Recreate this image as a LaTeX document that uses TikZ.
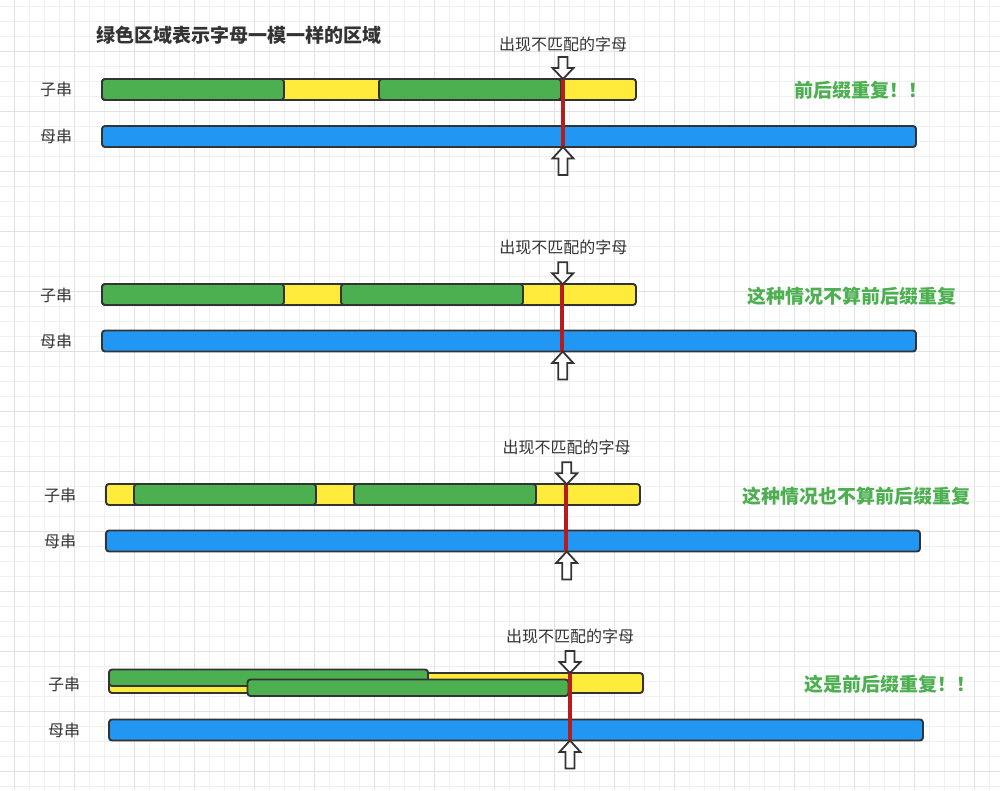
\documentclass[tikz,border=0pt]{standalone}
\usepackage{fontspec}
\newfontfamily\cjk{Noto Sans CJK SC}
\definecolor{gline}{HTML}{333333}
\definecolor{cgreen}{HTML}{4CAF50}
\definecolor{cyellow}{HTML}{FFEB3B}
\definecolor{cblue}{HTML}{2196F3}
\definecolor{cred}{HTML}{B71C1C}
\definecolor{gridminor}{HTML}{F0F0F0}
\definecolor{gridmajor}{HTML}{E2E2E2}
\tikzset{
  bar/.style={draw=gline, line width=1.9pt, rounded corners=3pt, inner sep=0pt, outer sep=0pt, anchor=north west, rectangle},
  ybar/.style={bar, fill=cyellow, minimum width=534, minimum height=21},
  gbar/.style={bar, fill=cgreen, minimum height=21},
  mbar/.style={bar, fill=cblue, minimum width=814, minimum height=21},
  redline/.style={draw=cred, line width=4pt},
  lbl/.style={font=\cjk\fontsize{16}{18}\selectfont, text=gline, inner sep=0pt},
  title/.style={font=\cjk\bfseries\fontsize{19}{22}\selectfont, text=gline, inner sep=0pt},
  note/.style={font=\cjk\bfseries\fontsize{19}{22}\selectfont, text=cgreen, inner sep=0pt},
  downarr/.pic={\draw[draw=gline, fill=white, line width=1.8pt, line join=miter] (0,0) -- (10.5,-11) -- (4.5,-11) -- (4.5,-22) -- (-4.5,-22) -- (-4.5,-11) -- (-10.5,-11) -- cycle;},
  uparr/.pic={\draw[draw=gline, fill=white, line width=1.8pt, line join=miter] (0,0) -- (10.5,11.5) -- (4.5,11.5) -- (4.5,28) -- (-4.5,28) -- (-4.5,11.5) -- (-10.5,11.5) -- cycle;}
}
\begin{document}
\begin{tikzpicture}[x=1pt,y=-1pt]
\useasboundingbox (0,0) rectangle (1000,790);
\fill[white] (0,0) rectangle (1000,790);
% grid
\foreach \gx in {-1,14,...,1004} {\draw[gridminor, line width=1pt] (\gx,0) -- (\gx,790);}
\foreach \gy in {6,21,...,786} {\draw[gridminor, line width=1pt] (0,\gy) -- (1000,\gy);}
\foreach \gx in {14,74,...,974} {\draw[gridmajor, line width=1pt] (\gx,0) -- (\gx,790);}
\foreach \gy in {51,111,...,771} {\draw[gridmajor, line width=1pt] (0,\gy) -- (1000,\gy);}

% title
\node[title, anchor=west] (title) at (96,35) {绿色区域表示字母一模一样的区域};

% ---------- group 1 ----------
\node[lbl] (g1ls) at (56,89.5) {子串};
\node[lbl] (g1lm) at (56,136.5) {母串};
\node[ybar] (g1y) at (102,79) {};
\node[gbar, minimum width=182] (g1a) at (102,79) {};
\node[gbar, minimum width=182] (g1b) at (379,79) {};
\node[mbar] (g1m) at (102,126) {};
\coordinate (g1x) at (562.5,0);
\draw[redline] (g1y.north -| g1x) -- (g1m.south -| g1x);
\coordinate (g1t) at (563,79);
\coordinate (g1u) at (563,147);
\pic at (g1t) {downarr};
\pic at (g1u) {uparr};
\node[lbl] (g1txt) at (563,44) {出现不匹配的字母};
\node[note, anchor=west] (g1n) at (794,90) {前后缀重复！！};

% ---------- group 2 ----------
\node[lbl] (g2ls) at (56,295) {子串};
\node[lbl] (g2lm) at (56,341) {母串};
\node[ybar] (g2y) at (102,284) {};
\node[gbar, minimum width=182] (g2a) at (102,284) {};
\node[gbar, minimum width=182] (g2b) at (341,284) {};
\node[mbar] (g2m) at (102,330.5) {};
\coordinate (g2x) at (562,0);
\draw[redline] (g2y.north -| g2x) -- (g2m.south -| g2x);
\coordinate (g2t) at (562.7,284.3);
\coordinate (g2u) at (562.7,351.5);
\pic at (g2t) {downarr};
\pic at (g2u) {uparr};
\node[lbl] (g2txt) at (563.3,247.3) {出现不匹配的字母};
\node[note] (g2n) at (852,296) {这种情况不算前后缀重复};

% ---------- group 3 ----------
\node[lbl] (g3ls) at (60,495) {子串};
\node[lbl] (g3lm) at (60,541) {母串};
\node[ybar] (g3y) at (106,484) {};
\node[gbar, minimum width=182] (g3a) at (134,484) {};
\node[gbar, minimum width=182] (g3b) at (354,484) {};
\node[mbar] (g3m) at (106,530.5) {};
\coordinate (g3x) at (566.2,0);
\draw[redline] (g3y.north -| g3x) -- (g3m.south -| g3x);
\coordinate (g3t) at (566.7,484.3);
\coordinate (g3u) at (566.7,551.5);
\pic at (g3t) {downarr};
\pic at (g3u) {uparr};
\node[lbl] (g3txt) at (566.7,447.3) {出现不匹配的字母};
\node[note] (g3n) at (856,496) {这种情况也不算前后缀重复};

% ---------- group 4 ----------
\node[lbl] (g4ls) at (64,684) {子串};
\node[lbl] (g4lm) at (64,730) {母串};
\node[bar, fill=cyellow, minimum width=534, minimum height=20] (g4y) at (109,673) {};
\node[bar, fill=cgreen, minimum width=319, minimum height=16.5] (g4a) at (109,669.5) {};
\node[bar, fill=cgreen, minimum width=321, minimum height=16.5] (g4b) at (247.5,679.5) {};
\node[mbar] (g4m) at (109,719.5) {};
\coordinate (g4x) at (569.5,0);
\draw[redline] (g4y.north -| g4x) -- (g4m.south -| g4x);
\coordinate (g4t) at (570,673);
\coordinate (g4u) at (570,740.5);
\pic at (g4t) {downarr};
\pic at (g4u) {uparr};
\node[lbl] (g4txt) at (570,636.7) {出现不匹配的字母};
\node[note, anchor=west] (g4n) at (804,684) {这是前后缀重复！！};
\end{tikzpicture}
\end{document}
